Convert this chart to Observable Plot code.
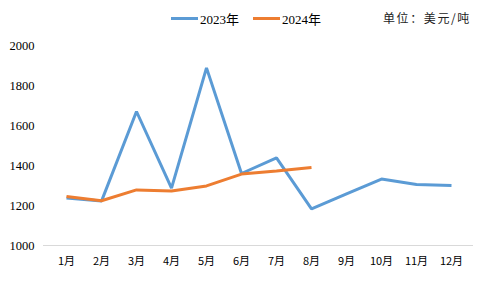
<!DOCTYPE html>
<html>
<head>
<meta charset="utf-8">
<script src="https://cdn.jsdelivr.net/npm/d3@7"></script>
<script src="https://cdn.jsdelivr.net/npm/@observablehq/plot@0.6"></script>
<style>
  body { margin: 0; background: #fff; }
  #wrap { width: 488px; height: 285px; position: relative; }
  #legend { height: 30px; position: relative; font-family: "Liberation Serif", "Noto Sans CJK SC", serif; font-size: 13px; color: #000; }
  .item { position: absolute; top: 9px; display: flex; align-items: center; }
  .sw { display: inline-block; width: 27px; height: 3px; margin-right: 2px; }
  #unit { position: absolute; top: 9px; left: 383px; font-family: "Noto Sans CJK SC", sans-serif; font-size: 12px; letter-spacing: 1.6px; color: #222; }
</style>
</head>
<body>
<div id="wrap">
  <div id="legend"></div>
  <div id="chart"></div>
</div>
<script>
const months = ["1月","2月","3月","4月","5月","6月","7月","8月","9月","10月","11月","12月"];
const series = ["2023年", "2024年"];
const colors = ["#5b9bd5", "#ed7d31"];
const values2023 = [1238, 1222, 1670, 1287, 1888, 1360, 1438, 1183, 1258, 1332, 1305, 1300];
const values2024 = [1245, 1224, 1278, 1273, 1298, 1357, 1373, 1390];
const yTicks = [1000, 1200, 1400, 1600, 1800, 2000];
const unitLabel = "单位：美元/吨";

const data = [
  ...values2023.map((v, i) => ({month: months[i], value: v, series: series[0]})),
  ...values2024.map((v, i) => ({month: months[i], value: v, series: series[1]}))
];

const legend = document.getElementById("legend");
const lefts = [171, 253];
series.forEach((s, i) => {
  const d = document.createElement("div");
  d.className = "item";
  d.style.left = lefts[i] + "px";
  d.innerHTML = `<span class="sw" style="background:${colors[i]}"></span><span>${s}</span>`;
  legend.appendChild(d);
});
const u = document.createElement("div");
u.id = "unit";
u.textContent = unitLabel;
legend.appendChild(u);

const chart = Plot.plot({
  width: 488,
  height: 255,
  marginLeft: 43,
  marginRight: 15,
  marginTop: 15,
  marginBottom: 40,
  style: { fontFamily: "'Liberation Serif', serif", fontSize: "12px", color: "#000", background: "#fff" },
  x: { type: "point", domain: months, padding: 0.5, label: null },
  y: { domain: [1000, 2000], ticks: yTicks, label: null },
  color: { domain: series, range: colors },
  marks: [
    Plot.ruleY([1000], { stroke: "#d9d9d9", strokeWidth: 1 }),
    Plot.axisY({ ticks: yTicks, tickSize: 0, tickPadding: 9, fontSize: 12.5, fontFamily: "'Liberation Serif', serif", tickFormat: d => String(d), label: null }),
    Plot.axisX({ tickSize: 0, tickPadding: 12, fontSize: 11, fontFamily: "'Noto Sans CJK SC', sans-serif", label: null }),
    Plot.line(data, { x: "month", y: "value", z: "series", stroke: "series", strokeWidth: 3, strokeLinejoin: "miter", strokeLinecap: "butt" })
  ]
});
document.getElementById("chart").appendChild(chart);
</script>
</body>
</html>
